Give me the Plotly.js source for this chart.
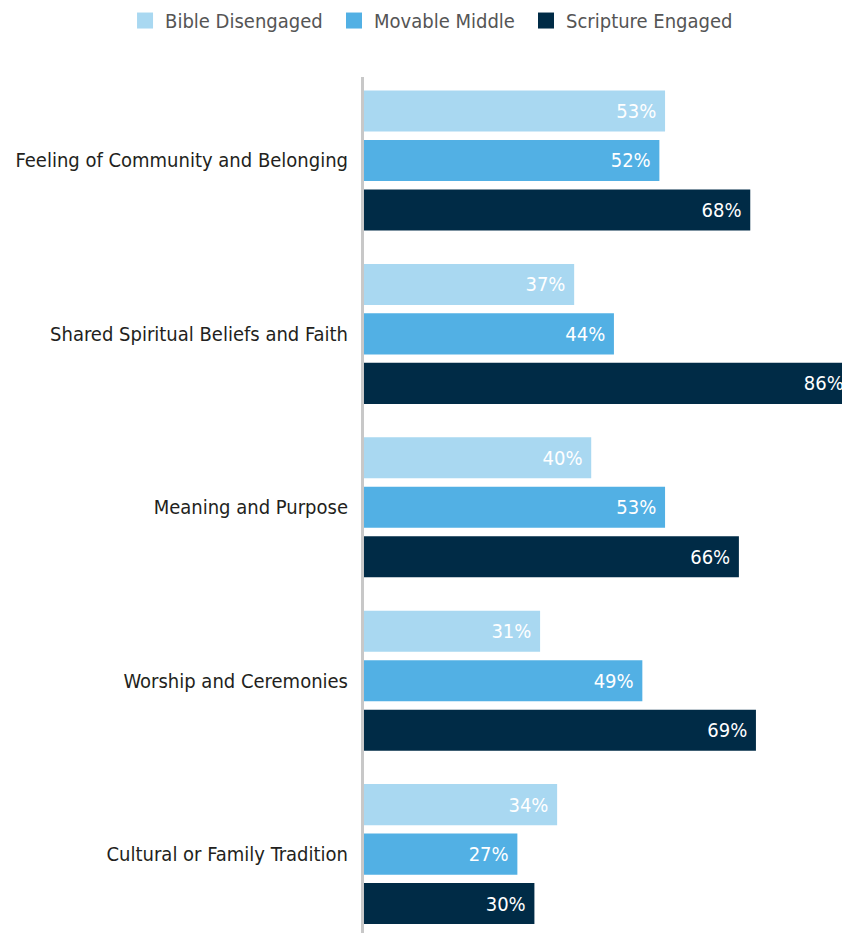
<!DOCTYPE html>
<html>
<head>
<meta charset="utf-8">
<script src="https://cdn.plot.ly/plotly-3.0.1.min.js"></script>
<style>html,body{margin:0;padding:0;background:#fff;}#chart{width:842px;height:933px;}</style>
</head>
<body>
<div id="chart"></div>
<script>
const categories = [
  "Feeling of Community and Belonging",
  "Shared Spiritual Beliefs and Faith",
  "Meaning and Purpose",
  "Worship and Ceremonies",
  "Cultural or Family Tradition"
];
const seriesNames = ["Bible Disengaged", "Movable Middle", "Scripture Engaged"];
const bibleDisengaged = [53, 37, 40, 31, 34];
const movableMiddle = [52, 44, 53, 49, 27];
const scriptureEngaged = [68, 86, 66, 69, 30];
const colors = ["#A9D8F1", "#52B0E4", "#002B46"];

const FONT = "'DejaVu Sans Condensed', 'Liberation Sans Narrow', sans-serif";
const allValues = [bibleDisengaged, movableMiddle, scriptureEngaged];
const legendIds = ['legend', 'legend2', 'legend3'];
const legendX = [0.1485, 0.3967, 0.6247];

const traces = [];
allValues.forEach((vals, i) => {
  traces.push({
    type: 'bar',
    orientation: 'h',
    name: seriesNames[i],
    y: categories,
    x: vals,
    marker: {color: colors[i]},
    text: vals.map(v => v + '%\u00a0'),
    textposition: 'inside',
    insidetextanchor: 'end',
    constraintext: 'none',
    textfont: {color: '#ffffff', size: 20, family: FONT},
    showlegend: false,
    hoverinfo: 'skip'
  });
});
// legend entries
allValues.forEach((vals, i) => {
  traces.push({
    type: 'scatter',
    mode: 'markers',
    name: seriesNames[i],
    x: [null], y: [null],
    marker: {symbol: 'square', size: 16, color: colors[i]},
    showlegend: true,
    legend: legendIds[i],
    hoverinfo: 'skip'
  });
});

const layout = {
  width: 842, height: 933,
  margin: {l: 364, r: 0, t: 77, b: 0},
  paper_bgcolor: '#ffffff', plot_bgcolor: '#ffffff',
  barmode: 'group',
  bargap: 0.144,
  bargroupgap: 0.17,
  font: {family: FONT, color: '#231F20'},
  xaxis: {range: [0, 84.15], visible: false, fixedrange: true},
  yaxis: {
    type: 'category',
    range: [4.455, -0.4815],
    autorange: false,
    showline: true, linecolor: '#C8C8C8', linewidth: 3,
    showgrid: false, zeroline: false,
    ticks: '', ticklabelstandoff: 9,
    tickfont: {size: 20, color: '#231F20', family: FONT}
  },
  showlegend: true
};
legendIds.forEach((id, i) => {
  layout[id] = {
    orientation: 'h',
    xref: 'container', yref: 'container',
    x: legendX[i], xanchor: 'left',
    y: 0.978, yanchor: 'middle',
    font: {size: 20, color: '#555555', family: FONT},
    itemwidth: 30,
    bgcolor: 'rgba(0,0,0,0)'
  };
});

Plotly.newPlot('chart', traces, layout, {displayModeBar: false, staticPlot: true});
</script>
</body>
</html>
